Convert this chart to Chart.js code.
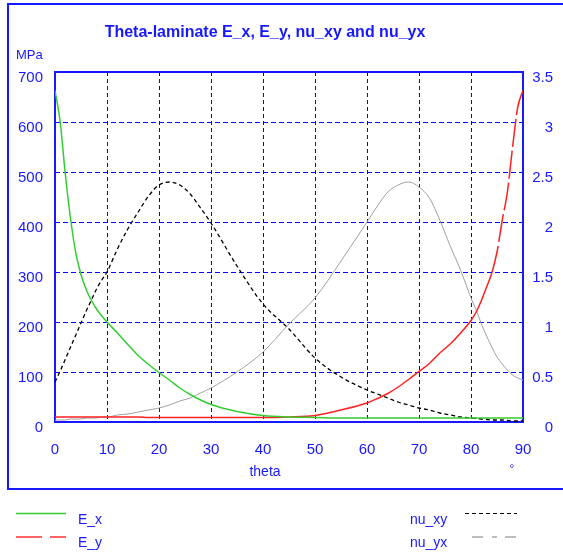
<!DOCTYPE html>
<html>
<head>
<meta charset="utf-8">
<title>Theta-laminate</title>
<script src="https://cdn.jsdelivr.net/npm/chart.js@4.4.0/dist/chart.umd.min.js"></script>
<style>
  body { margin: 0; background: #fff; }
</style>
</head>
<body>
<canvas id="chart" width="563" height="553"></canvas>
<script>
// fibre angle (deg)
const theta = [0, 1, 2, 3, 4, 5, 6, 7, 8, 9, 10,
               12, 14, 16, 18, 20, 22, 24, 26, 28, 30,
               35, 40, 45, 50, 55, 60,
               62, 64, 66, 68, 70, 72, 74, 76, 78, 80,
               81, 82, 83, 84, 85, 86, 87, 88, 89, 90];

// moduli, MPa
const E_x = [663, 600, 494, 406, 338, 295, 265, 243, 226, 212, 200,
             178, 155, 133, 115, 99, 84, 68, 55, 44, 35,
             21, 13, 10, 9, 8, 8,
             8, 8, 8, 8, 8, 8, 8, 8, 8, 8,
             8, 8, 8, 8, 8, 8, 8, 8, 8, 8];
const E_y = [10, 10, 10, 10, 10, 10, 10, 10, 10, 10, 10,
             10, 10, 10, 9, 9, 9, 9, 9, 9, 9,
             9, 9, 10, 13, 24, 38,
             47, 57, 70, 85, 101, 117, 138, 156, 178, 203,
             220, 243, 270, 298, 340, 403, 460, 550, 630, 663];

// poisson ratios (right axis)
const nu_xy = [0.40, 0.51, 0.63, 0.75, 0.87, 0.99, 1.11, 1.22, 1.33, 1.42, 1.50,
               1.73, 1.93, 2.10, 2.26, 2.37, 2.40, 2.37, 2.28, 2.14, 1.99,
               1.56, 1.18, 0.93, 0.64, 0.45, 0.32,
               0.28, 0.24, 0.20, 0.17, 0.14, 0.12, 0.09, 0.07, 0.05, 0.04,
               0.035, 0.03, 0.025, 0.02, 0.02, 0.02, 0.015, 0.01, 0.01, 0.01];
const nu_yx = [0.02, 0.02, 0.02, 0.03, 0.03, 0.03, 0.04, 0.04, 0.04, 0.05, 0.05,
               0.07, 0.08, 0.10, 0.12, 0.14, 0.17, 0.21, 0.24, 0.29, 0.34,
               0.50, 0.70, 0.98, 1.24, 1.61, 2.00,
               2.16, 2.30, 2.37, 2.40, 2.35, 2.24, 2.02, 1.76, 1.52, 1.24,
               1.12, 0.98, 0.86, 0.75, 0.65, 0.58, 0.52, 0.47, 0.44, 0.42];

const BLUE = 'rgb(24,24,255)';
const GRID = '#0000ff';
const FONT = '"Liberation Sans", Arial, sans-serif';

function pts(arr) {
    return theta.map((t, i) => ({x: t, y: arr[i]}));
}

// title, frames, axis captions and the bottom legend
const decor = {
    id: 'decor',
    beforeDraw(chart) {
        const ctx = chart.ctx;
        ctx.save();
        ctx.fillStyle = '#fff';
        ctx.fillRect(0, 0, chart.width, chart.height);
        ctx.strokeStyle = BLUE;
        ctx.lineWidth = 2;
        ctx.beginPath();
        ctx.moveTo(570, 4);
        ctx.lineTo(8, 4);
        ctx.lineTo(8, 489);
        ctx.lineTo(570, 489);
        ctx.stroke();
        ctx.restore();
    },
    beforeDatasetsDraw(chart) {
        const ctx = chart.ctx;
        const a = chart.chartArea;
        ctx.save();
        ctx.strokeStyle = BLUE;
        ctx.lineWidth = 2;
        ctx.strokeRect(a.left, a.top, a.right - a.left, a.bottom - a.top);
        ctx.restore();
    },
    afterDraw(chart) {
        const ctx = chart.ctx;
        ctx.save();
        ctx.fillStyle = BLUE;
        ctx.textBaseline = 'middle';

        ctx.font = 'bold 16px ' + FONT;
        ctx.textAlign = 'center';
        ctx.fillText('Theta-laminate E_x, E_y, nu_xy and nu_yx', 265, 33);

        ctx.font = '13px ' + FONT;
        ctx.textAlign = 'left';
        ctx.fillText('MPa', 16, 55);
        ctx.textAlign = 'center';
        ctx.font = '14px ' + FONT;
        ctx.fillText('theta', 265, 472);
        ctx.font = '12px ' + FONT;
        ctx.fillText('°', 512, 470);

        // legend
        ctx.font = '14px ' + FONT;
        ctx.textAlign = 'left';
        ctx.fillText('E_x', 78, 520);
        ctx.fillText('E_y', 78, 543);
        ctx.fillText('nu_xy', 410, 520);
        ctx.fillText('nu_yx', 410, 543);

        const seg = (x1, x2, y, color, dash, w) => {
            ctx.beginPath();
            ctx.strokeStyle = color;
            ctx.lineWidth = w;
            ctx.setLineDash(dash);
            ctx.moveTo(x1, y);
            ctx.lineTo(x2, y);
            ctx.stroke();
        };
        seg(16, 66, 513.5, '#33cc33', [], 1.5);
        seg(16, 66, 537, '#ff3030', [26, 8], 1.5);
        seg(465, 517, 513.5, '#000', [4, 3], 1);
        seg(472, 517, 537, '#a8a8a8', [11, 9, 5, 8], 1.5);
        ctx.restore();
    }
};

new Chart(document.getElementById('chart'), {
    type: 'line',
    data: {
        datasets: [
            {
                label: 'E_x',
                data: pts(E_x),
                yAxisID: 'y',
                borderColor: '#33cc33',
                borderWidth: 1.5,
                pointRadius: 0,
                cubicInterpolationMode: 'monotone'
            },
            {
                label: 'E_y',
                data: pts(E_y),
                yAxisID: 'y',
                borderColor: '#ff2020',
                borderWidth: 1.5,
                pointRadius: 0,
                cubicInterpolationMode: 'monotone',
                segment: {
                    borderDash: c => c.p0.parsed.x >= 84 ? [28, 4] : undefined
                }
            },
            {
                label: 'nu_xy',
                data: pts(nu_xy),
                yAxisID: 'y1',
                borderColor: '#000',
                borderWidth: 1.3,
                borderDash: [4, 3],
                pointRadius: 0,
                cubicInterpolationMode: 'monotone'
            },
            {
                label: 'nu_yx',
                data: pts(nu_yx),
                yAxisID: 'y1',
                borderColor: '#a0a0a0',
                borderWidth: 1,
                pointRadius: 0,
                cubicInterpolationMode: 'monotone'
            }
        ]
    },
    options: {
        responsive: false,
        animation: false,
        layout: { padding: { top: 72, right: 10, bottom: 0, left: 0 } },
        plugins: {
            legend: { display: false },
            title: { display: false },
            tooltip: { enabled: false }
        },
        scales: {
            x: {
                type: 'linear',
                min: 0,
                max: 90,
                afterFit: s => { s.height = 131; },
                ticks: {
                    stepSize: 10,
                    color: BLUE,
                    font: { family: FONT, size: 15 },
                    padding: 19,
                    maxRotation: 0
                },
                grid: { color: GRID, lineWidth: 1, drawTicks: false },
                border: { display: false, dash: [4, 3] }
            },
            y: {
                position: 'left',
                min: 0,
                max: 700,
                afterFit: s => { s.width = 55; },
                ticks: {
                    stepSize: 100,
                    color: BLUE,
                    font: { family: FONT, size: 15 },
                    padding: 12,
                    labelOffset: 6
                },
                grid: { color: GRID, lineWidth: 1, drawTicks: false },
                border: { display: false, dash: [5, 3] }
            },
            y1: {
                position: 'right',
                min: 0,
                max: 3.5,
                afterFit: s => { s.width = 30; },
                ticks: {
                    stepSize: 0.5,
                    color: BLUE,
                    font: { family: FONT, size: 15 },
                    crossAlign: 'far',
                    labelOffset: 6,
                    callback: v => String(v)
                },
                grid: { display: false },
                border: { display: false }
            }
        }
    },
    plugins: [decor]
});
</script>
</body>
</html>
